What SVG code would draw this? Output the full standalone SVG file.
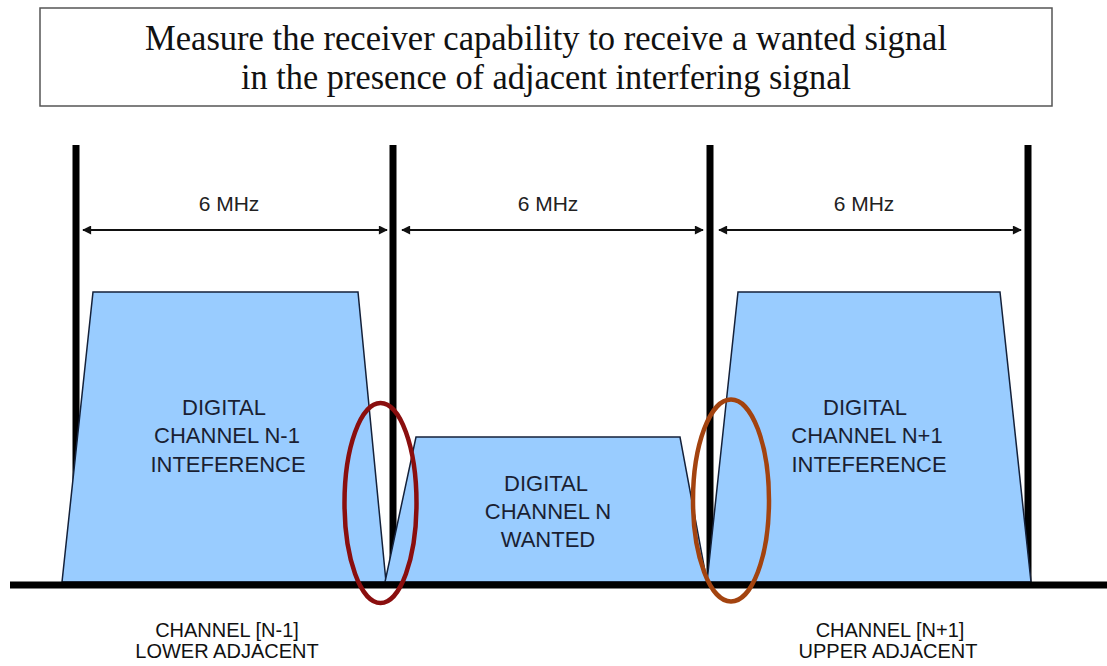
<svg xmlns="http://www.w3.org/2000/svg" width="1107" height="666" viewBox="0 0 1107 666">
<style>
.title{font-family:"Liberation Serif","Times New Roman",serif;font-size:36px;fill:#111;text-anchor:middle}
.lbl{font-family:"Liberation Sans",Arial,sans-serif;font-size:22px;fill:#1a1f33;text-anchor:middle}
.mhz{font-family:"Liberation Sans",Arial,sans-serif;font-size:21px;fill:#222;text-anchor:middle}
.bot{font-family:"Liberation Sans",Arial,sans-serif;font-size:20px;fill:#111;text-anchor:middle}
.vbar{stroke:#000;stroke-width:7}
.trap{fill:#99CCFF;stroke:#14213a;stroke-width:1.5;stroke-linejoin:miter}
.dim{stroke:#111;stroke-width:2;fill:none;marker-start:url(#ah);marker-end:url(#ah)}
</style>
<defs>
<marker id="ah" viewBox="0 0 10 10" refX="9" refY="5" markerWidth="10" markerHeight="9" markerUnits="userSpaceOnUse" orient="auto-start-reverse">
<path d="M0,0 L10,5 L0,10 Z" fill="#111"/>
</marker>
</defs>
<rect width="1107" height="666" fill="#fff"/>
<g id="title">
<rect x="40" y="8" width="1012" height="98" fill="#fff" stroke="#555" stroke-width="1.5"/>
<text class="title" x="546" y="50" textLength="802" lengthAdjust="spacingAndGlyphs">Measure the receiver capability to receive a wanted signal</text>
<text class="title" x="546" y="89" textLength="610" lengthAdjust="spacingAndGlyphs">in the presence of adjacent interfering signal</text>
</g>
<g id="channel-boundaries">
<line class="vbar" x1="76" y1="145" x2="76" y2="583"/>
<line class="vbar" x1="393" y1="145" x2="393" y2="583"/>
<line class="vbar" x1="710" y1="145" x2="710" y2="583"/>
<line class="vbar" x1="1028" y1="145" x2="1028" y2="583"/>
</g>
<g id="connectors">
<line class="dim" x1="83" y1="230" x2="387" y2="230"/>
<line class="dim" x1="402" y1="230" x2="703" y2="230"/>
<line class="dim" x1="719" y1="230" x2="1021" y2="230"/>
</g>
<g id="bw-labels">
<text class="mhz" x="229" y="211">6 MHz</text>
<text class="mhz" x="548" y="211">6 MHz</text>
<text class="mhz" x="864" y="211">6 MHz</text>
</g>
<g id="channel-n-minus-1">
<polygon class="trap" points="62,582 93,292 358,292 386,582"/>
<text class="lbl" x="224" y="415">DIGITAL</text>
<text class="lbl" x="227" y="443">CHANNEL N-1</text>
<text class="lbl" x="228" y="472">INTEFERENCE</text>
</g>
<g id="channel-n">
<polygon class="trap" points="385,582 416,437 680,437 707,582"/>
<text class="lbl" x="546" y="491">DIGITAL</text>
<text class="lbl" x="548" y="519">CHANNEL N</text>
<text class="lbl" x="548" y="547">WANTED</text>
</g>
<g id="channel-n-plus-1">
<polygon class="trap" points="707,582 738,292 1000,292 1031,582"/>
<text class="lbl" x="865" y="415">DIGITAL</text>
<text class="lbl" x="867" y="443">CHANNEL N+1</text>
<text class="lbl" x="869" y="472">INTEFERENCE</text>
</g>
<g id="baseline">
<line x1="10" y1="585" x2="1107" y2="585" stroke="#000" stroke-width="7"/>
</g>
<g id="overlap-lower">
<ellipse cx="380.5" cy="503" rx="36" ry="100" fill="none" stroke="#8a0e0e" stroke-width="4.5"/>
</g>
<g id="overlap-upper">
<ellipse cx="731" cy="500.5" rx="38" ry="101" fill="none" stroke="#a3430f" stroke-width="4.5"/>
</g>
<g id="lower-adjacent">
<text class="bot" x="227" y="637">CHANNEL [N-1]</text>
<text class="bot" x="227" y="658">LOWER ADJACENT</text>
</g>
<g id="upper-adjacent">
<text class="bot" x="890" y="637">CHANNEL [N+1]</text>
<text class="bot" x="888" y="658">UPPER ADJACENT</text>
</g>
</svg>
